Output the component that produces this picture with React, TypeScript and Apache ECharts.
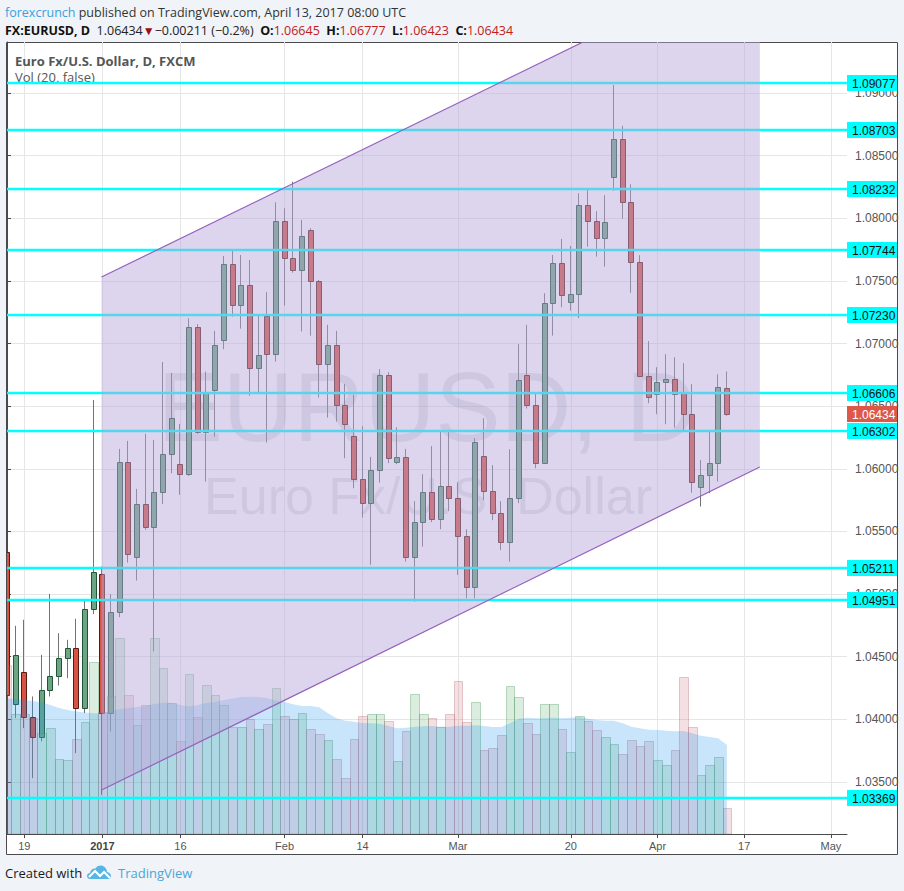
import React, { useEffect, useRef } from 'react';
import * as echarts from 'echarts';

// ---------- data ----------
const dates = [
  '2016-12-15', '2016-12-16', '2016-12-19', '2016-12-20', '2016-12-21', '2016-12-22', '2016-12-23', '2016-12-27', '2016-12-28', '2016-12-29', '2016-12-30',
  '2017-01-03', '2017-01-04', '2017-01-05', '2017-01-06', '2017-01-09', '2017-01-10', '2017-01-11', '2017-01-12', '2017-01-13',
  '2017-01-16', '2017-01-17', '2017-01-18', '2017-01-19', '2017-01-20', '2017-01-23', '2017-01-24', '2017-01-25', '2017-01-26', '2017-01-27', '2017-01-30', '2017-01-31',
  '2017-02-01', '2017-02-02', '2017-02-03', '2017-02-06', '2017-02-07', '2017-02-08', '2017-02-09', '2017-02-10', '2017-02-13',
  '2017-02-14', '2017-02-15', '2017-02-16', '2017-02-17', '2017-02-20', '2017-02-21', '2017-02-22', '2017-02-23', '2017-02-24', '2017-02-27', '2017-02-28',
  '2017-03-01', '2017-03-02', '2017-03-03', '2017-03-06', '2017-03-07', '2017-03-08', '2017-03-09', '2017-03-10', '2017-03-13', '2017-03-14', '2017-03-15', '2017-03-16', '2017-03-17',
  '2017-03-20', '2017-03-21', '2017-03-22', '2017-03-23', '2017-03-24', '2017-03-27', '2017-03-28', '2017-03-29', '2017-03-30', '2017-03-31',
  '2017-04-03', '2017-04-04', '2017-04-05', '2017-04-06', '2017-04-07', '2017-04-10', '2017-04-11', '2017-04-12', '2017-04-13',
];

const opens = [
  1.05337, 1.04124, 1.04382, 1.04018, 1.03858, 1.04233, 1.04345, 1.04489, 1.04569, 1.0409, 1.0488,
  1.05159, 1.0405, 1.04861, 1.06053, 1.05295, 1.05718, 1.05534, 1.05814, 1.06117,
  1.06037, 1.05957, 1.0713, 1.06292, 1.0663, 1.07027, 1.07633, 1.07306, 1.07465, 1.06803, 1.07218, 1.06915,
  1.07976, 1.07681, 1.07585, 1.07904, 1.07497, 1.06835, 1.06987, 1.06508, 1.0626,
  1.05917, 1.05726, 1.05989, 1.06747, 1.06053, 1.06093, 1.05295, 1.05574, 1.05814, 1.05598, 1.05861,
  1.05766, 1.05462, 1.05055, 1.06101, 1.05822, 1.05646, 1.05415, 1.05766, 1.06747, 1.06508, 1.06045, 1.07322, 1.07641,
  1.0733, 1.07394, 1.08104, 1.07976, 1.07841, 1.08332, 1.08631, 1.08133, 1.07649, 1.06739,
  1.06596, 1.06692, 1.06716, 1.06612, 1.06437, 1.05854, 1.05949, 1.06045, 1.06645,
];

const highs = [
  1.05401, 1.04747, 1.04795, 1.04183, 1.04515, 1.05002, 1.04688, 1.04635, 1.04803, 1.04949, 1.0655,
  1.0522, 1.05, 1.06159, 1.06223, 1.0584, 1.06279, 1.06231, 1.06853, 1.06766,
  1.06359, 1.07202, 1.07154, 1.06776, 1.07101, 1.07699, 1.07747, 1.07707, 1.07667, 1.07228, 1.0741, 1.08128,
  1.0808, 1.08292, 1.07987, 1.0792, 1.07508, 1.07149, 1.07101, 1.06678, 1.0659,
  1.0634, 1.06095, 1.06795, 1.06771, 1.06332, 1.06159, 1.05742, 1.05957, 1.06181, 1.063, 1.063,
  1.05893, 1.05518, 1.06245, 1.06404, 1.06029, 1.05742, 1.06157, 1.06995, 1.07149, 1.06604, 1.07402, 1.07707, 1.07835,
  1.07779, 1.082, 1.08232, 1.08056, 1.08184, 1.09064, 1.08737, 1.08271, 1.07705, 1.07019,
  1.06811, 1.06915, 1.06891, 1.06843, 1.06676, 1.06071, 1.06305, 1.06755, 1.06777,
];

const lows = [
  1.03664, 1.0401, 1.0393, 1.03531, 1.03824, 1.04183, 1.0427, 1.04329, 1.03731, 1.0405, 1.0484,
  1.03398, 1.03903, 1.04816, 1.05252, 1.05108, 1.05513, 1.04542, 1.0572, 1.05965,
  1.05792, 1.05944, 1.06279, 1.05898, 1.06257, 1.06955, 1.07215, 1.07119, 1.06584, 1.06596, 1.06209, 1.06856,
  1.07303, 1.07566, 1.07096, 1.07063, 1.06569, 1.06409, 1.06377, 1.06085, 1.05845,
  1.05611, 1.05234, 1.0589, 1.06045, 1.06037, 1.0526, 1.0494, 1.05379, 1.05574, 1.05518, 1.05662,
  1.05154, 1.04968, 1.04968, 1.0575, 1.0559, 1.05351, 1.0526, 1.05726, 1.06481, 1.06005, 1.0604, 1.07063, 1.0729,
  1.07263, 1.07202, 1.07773, 1.07694, 1.07614, 1.0822, 1.07997, 1.07406, 1.06731, 1.06524,
  1.06436, 1.06356, 1.06329, 1.06297, 1.0581, 1.05699, 1.05806, 1.05898, 1.06423,
];

const closes = [
  1.04196, 1.0451, 1.04018, 1.03858, 1.04233, 1.04345, 1.04489, 1.04569, 1.0409, 1.0488, 1.05175,
  1.0405, 1.04861, 1.06053, 1.05319, 1.05718, 1.05534, 1.05814, 1.0612, 1.06404,
  1.05957, 1.0713, 1.06292, 1.06608, 1.06987, 1.07633, 1.07306, 1.07465, 1.06803, 1.06907, 1.06915, 1.07976,
  1.07681, 1.07585, 1.07857, 1.075, 1.06835, 1.06987, 1.06508, 1.06356, 1.05917,
  1.05726, 1.05989, 1.06747, 1.06085, 1.06093, 1.05295, 1.05574, 1.05814, 1.05598, 1.05861, 1.05766,
  1.05462, 1.05055, 1.06213, 1.05822, 1.05646, 1.05415, 1.05766, 1.06707, 1.06508, 1.06045, 1.07322, 1.07641, 1.07386,
  1.07394, 1.08104, 1.07976, 1.07841, 1.07969, 1.08631, 1.08133, 1.07649, 1.06739, 1.06571,
  1.06692, 1.06716, 1.06596, 1.06437, 1.05893, 1.05949, 1.06045, 1.06652, 1.06434,
];

// volume (arbitrary units, read as bar heights) and its 20-period average
const volumes = [
  169, 120, 120, 116, 101, 106, 75, 74, 95, 112, 172,
  122, 138, 196, 139, 109, 129, 196, 166, 131,
  93, 160, 117, 149, 139, 129, 107, 107, 115, 105, 110, 146,
  118, 115, 121, 105, 100, 94, 75, 56, 95,
  118, 120, 120, 113, 73, 103, 140, 120, 116, 107, 120,
  153, 112, 132, 84, 86, 99, 148, 137, 111, 100, 130, 130, 105,
  82, 118, 113, 104, 97, 90, 80, 94, 88, 93,
  74, 69, 84, 157, 107, 59, 69, 77, 26,
];
const volumeMA = [
  135.5, 135, 134, 133, 131.5, 129, 126, 124, 122.5, 121.5, 120.7,
  120.7, 123, 125, 126, 127, 128, 130, 131.3, 131,
  129, 127.5, 129, 131, 132, 134, 135.5, 137, 137.3, 137, 136, 133.5,
  132, 129.7, 128, 128, 126.7, 120.7, 115.7, 113.3, 112.3,
  111, 110.7, 110.3, 108, 105.7, 106.3, 107.3, 107.7, 108, 107.3, 107.3,
  108.3, 108.3, 108.7, 108, 107, 107, 110.7, 115.3, 116.3, 115.7, 115.7, 116.3, 115.7,
  116.3, 117, 115.3, 114, 113.3, 113.3, 110.7, 107.3, 105.7, 104.3,
  104, 103.3, 102.7, 103, 100.7, 98.3, 97, 95.7, 89,
];

const levels = [1.09077, 1.08703, 1.08232, 1.07744, 1.0723, 1.06606, 1.06302, 1.05211, 1.04951, 1.03369];
const lastPrice = 1.06434;

const priceTicks = [1.035, 1.04, 1.045, 1.05, 1.055, 1.06, 1.065, 1.07, 1.075, 1.08, 1.085, 1.09];
const dateTickIndex = [2, 11, 20, 32, 41, 52, 65, 75, 85, 95];
const dateTickLabels = ['19', '2017', '16', 'Feb', '14', 'Mar', '20', 'Apr', '17', 'May'];

// parallel channel: bar index of its two ends, upper and lower price at each end
const channelX = [10.9, 86.8];
const channelUpper = [1.07531, 1.10096];
const channelLower = [1.03436, 1.06014];

// axis ranges
const PRICE_MIN = 1.03085;
const PRICE_MAX = 1.09407;
const X_MIN = 0;
const X_MAX = 96.85;
const VOLUME_AXIS_MAX = 792;

// ---------- styling ----------
const AXIS_FONT = '"Liberation Sans", Arial, sans-serif';
const UI_FONT = '"Open Sans", "Noto Sans", sans-serif';
const LABEL_BOX_W = 50;
const LABEL_BOX_H = 16;

const logoPath =
  'M3 14 C1.2 14 0 12.6 0 11 C0 9.3 1.3 8 3 8 C3.4 5 5.8 3.3 8.4 3.6 C9.8 1.2 12.6 0 15.3 0.8 C18.3 1.7 20 4.3 20 7 C22.4 7.4 24 9.2 24 11 C24 12.7 22.7 14 21 14 Z';
echarts.graphic.registerShape('tvlogo', echarts.graphic.extendPath(logoPath, {}) as any);

function priceTag(params: any, api: any, bg: string, fg: string, withLine: boolean, lineColor: string) {
  const cs = params.coordSys;
  const p = api.coord([api.value(0), api.value(1)]);
  const y = Math.round(p[1]);
  const right = cs.x + cs.width;
  const children: any[] = [];
  if (withLine) {
    children.push({
      type: 'line',
      shape: { x1: cs.x, y1: y, x2: right, y2: y },
      style: { stroke: lineColor, lineWidth: 2.5 },
    });
  }
  children.push({
    type: 'rect',
    shape: { x: right, y: y - LABEL_BOX_H / 2, width: LABEL_BOX_W, height: LABEL_BOX_H },
    style: { fill: bg },
  });
  children.push({
    type: 'text',
    x: right + 5,
    y: y + 0.5,
    style: {
      text: Number(api.value(1)).toFixed(5),
      fill: fg,
      font: `12px ${AXIS_FONT}`,
      verticalAlign: 'middle',
      align: 'left',
    },
  });
  return { type: 'group', children };
}

function buildOption(): any {
  const candleData = dates.map((_, i) => [i, opens[i], closes[i], lows[i], highs[i]]);
  const volumeData = volumes.map((v, i) => [i, v, closes[i] >= opens[i] ? 1 : 0]);
  const maData = volumeMA.map((v, i) => [i, v]);
  const levelData = levels.map((v) => [X_MIN, v]);
  const channelData = [[channelX[0], channelUpper[0], channelLower[0], channelX[1], channelUpper[1], channelLower[1]]];

  return {
    animation: false,
    backgroundColor: '#f0f3f7',
    grid: { left: 7, right: 57, top: 42, bottom: 57 },
    xAxis: {
      type: 'value',
      min: X_MIN,
      max: X_MAX,
      axisLine: { show: true, onZero: false, lineStyle: { color: '#4a4a4a', width: 1 } },
      axisTick: { show: true, customValues: dateTickIndex, length: 4, lineStyle: { color: '#4a4a4a' } },
      axisLabel: {
        customValues: dateTickIndex,
        margin: 6,
        color: '#555',
        fontSize: 11,
        fontFamily: AXIS_FONT,
        formatter: (v: number) => {
          const k = dateTickIndex.indexOf(Math.round(v));
          const t = k >= 0 ? dateTickLabels[k] : '';
          return t === '2017' ? '{b|2017}' : t;
        },
        rich: { b: { fontWeight: 'bold', color: '#444', fontSize: 11, fontFamily: AXIS_FONT } },
      },
      splitLine: { show: true, lineStyle: { color: '#e6e6e6', width: 1 } },
    },
    yAxis: [
      {
        type: 'value',
        position: 'right',
        min: PRICE_MIN,
        max: PRICE_MAX,
        scale: true,
        axisLine: { show: true, lineStyle: { color: '#4a4a4a', width: 1 } },
        axisTick: { show: true, customValues: priceTicks, length: 4, lineStyle: { color: '#4a4a4a' } },
        axisLabel: {
          customValues: priceTicks,
          margin: 8,
          color: '#555',
          fontSize: 12,
          fontFamily: AXIS_FONT,
          formatter: (v: number) => v.toFixed(5),
        },
        splitLine: { show: true, lineStyle: { color: '#e6e6e6', width: 1 } },
      },
      { type: 'value', min: 0, max: VOLUME_AXIS_MAX, show: false, splitLine: { show: false } },
    ],
    graphic: [
      {
        type: 'rect',
        z: -10,
        shape: { x: 6.5, y: 42.5, width: 891, height: 812 },
        style: { fill: '#ffffff', stroke: '#4a4a4a', lineWidth: 1 },
        silent: true,
      },
      {
        type: 'text',
        z: 1,
        x: 427,
        y: 407,
        silent: true,
        style: {
          text: 'EURUSD, D',
          fill: 'rgba(100,100,125,0.17)',
          font: `98px ${AXIS_FONT}`,
          align: 'center',
          verticalAlign: 'middle',
        },
      },
      {
        type: 'text',
        z: 1,
        x: 428,
        y: 496,
        silent: true,
        style: {
          text: 'Euro Fx/U.S. Dollar',
          fill: 'rgba(100,100,125,0.17)',
          font: `52px ${AXIS_FONT}`,
          align: 'center',
          verticalAlign: 'middle',
        },
      },
      {
        type: 'text',
        z: 4,
        x: 15,
        y: 61,
        silent: true,
        style: { text: 'Euro Fx/U.S. Dollar, D, FXCM', fill: '#555', font: `bold 13px ${UI_FONT}`, verticalAlign: 'middle' },
      },
      {
        type: 'text',
        z: 4,
        x: 15,
        y: 77,
        silent: true,
        style: { text: 'Vol (20, false)', fill: '#555', font: `13px ${UI_FONT}`, verticalAlign: 'middle' },
      },
      {
        type: 'text',
        z: 100,
        x: 5,
        y: 12,
        silent: true,
        style: {
          text: '{blue|forexcrunch} published on TradingView.com, April 13, 2017 08:00 UTC',
          fill: '#333',
          font: `12.5px ${UI_FONT}`,
          verticalAlign: 'middle',
          rich: {
            blue: { fill: '#3a9fdd', fontSize: 12.5, fontFamily: UI_FONT },
          },
        },
      },
      {
        type: 'text',
        z: 100,
        x: 5,
        y: 30,
        silent: true,
        style: {
          text:
            '{b|FX:EURUSD, D}  1.06434{t|▼}−0.00211 (−0.2%)  {b|O:}{r|1.06645}  {b|H:}{r|1.06777}  {b|L:}{r|1.06423}  {b|C:}{r|1.06434}',
          fill: '#222',
          font: `12.5px ${UI_FONT}`,
          verticalAlign: 'middle',
          rich: {
            b: { fill: '#111', fontWeight: 'bold', fontSize: 12.5, fontFamily: UI_FONT },
            r: { fill: '#c0201c', fontSize: 12.5, fontFamily: UI_FONT },
            t: { fill: '#9b0f0f', fontSize: 12, fontFamily: UI_FONT },
          },
        },
      },
      {
        type: 'text',
        z: 100,
        x: 5,
        y: 873,
        silent: true,
        style: { text: 'Created with', fill: '#1a1a1a', font: `13px ${UI_FONT}`, verticalAlign: 'middle' },
      },
      {
        type: 'tvlogo',
        z: 100,
        x: 87,
        y: 865,
        silent: true,
        style: { fill: '#58b6e6' },
      },
      {
        type: 'polyline',
        z: 101,
        silent: true,
        shape: { points: [[89, 877], [95, 871], [100, 876], [104, 872], [110, 878]] },
        style: { stroke: '#ffffff', lineWidth: 2, fill: null },
      },
      {
        type: 'text',
        z: 100,
        x: 118,
        y: 873,
        silent: true,
        style: { text: 'TradingView', fill: '#45a8dd', font: `13px ${UI_FONT}`, verticalAlign: 'middle' },
      },
    ],
    series: [
      {
        name: 'EURUSD',
        type: 'custom',
        z: 2,
        clip: true,
        xAxisIndex: 0,
        yAxisIndex: 0,
        data: candleData,
        encode: { x: 0, y: [1, 2, 3, 4] },
        renderItem: (params: any, api: any) => {
          const i = api.value(0);
          const o = api.value(1);
          const c = api.value(2);
          const l = api.value(3);
          const h = api.value(4);
          const po = api.coord([i, o]);
          const pc = api.coord([i, c]);
          const ph = api.coord([i, h]);
          const pl = api.coord([i, l]);
          const cx = Math.round(po[0]);
          const up = c >= o;
          const top = Math.round(Math.min(po[1], pc[1])) + 0.5;
          const bot = Math.round(Math.max(po[1], pc[1])) + 0.5;
          return {
            type: 'group',
            children: [
              {
                type: 'line',
                shape: { x1: cx - 0.5, y1: ph[1], x2: cx - 0.5, y2: pl[1] },
                style: { stroke: '#737375', lineWidth: 1 },
              },
              {
                type: 'rect',
                shape: { x: cx - 2.5, y: top, width: 5, height: Math.max(bot - top, 1) },
                style: {
                  fill: up ? '#6ba583' : '#d75442',
                  stroke: up ? '#225437' : '#5b1a13',
                  lineWidth: 1,
                },
              },
            ],
          };
        },
      },
      {
        name: 'Volume',
        type: 'custom',
        z: 3,
        clip: true,
        xAxisIndex: 0,
        yAxisIndex: 1,
        data: volumeData,
        encode: { x: 0, y: 1 },
        renderItem: (params: any, api: any) => {
          const i = api.value(0);
          const v = api.value(1);
          const up = api.value(2) === 1;
          const pL = api.coord([i - 0.5, v]);
          const pR = api.coord([i + 0.5, 0]);
          const x0 = Math.round(pL[0]) + 0.5;
          const x1 = Math.round(pR[0]) + 0.5;
          const y0 = Math.round(pL[1]) + 0.5;
          return {
            type: 'rect',
            shape: { x: x0, y: y0, width: x1 - x0, height: pR[1] - y0 },
            style: {
              fill: up ? 'rgba(110,185,125,0.25)' : 'rgba(200,100,110,0.2)',
              stroke: up ? 'rgba(70,150,90,0.35)' : 'rgba(170,90,100,0.3)',
              lineWidth: 1,
            },
          };
        },
      },
      {
        name: 'Volume MA',
        type: 'line',
        z: 4,
        xAxisIndex: 0,
        yAxisIndex: 1,
        data: maData,
        showSymbol: false,
        symbol: 'none',
        lineStyle: { width: 0, color: 'rgba(33,150,243,0)' },
        areaStyle: { color: 'rgba(33,150,243,0.35)' },
        silent: true,
      },
      {
        name: 'Levels',
        type: 'custom',
        z: 5,
        clip: false,
        silent: true,
        xAxisIndex: 0,
        yAxisIndex: 0,
        data: levelData,
        encode: { x: 0, y: 1 },
        renderItem: (params: any, api: any) => priceTag(params, api, '#00ffff', '#111', true, '#00ffff'),
      },
      {
        name: 'Last price',
        type: 'custom',
        z: 7,
        clip: false,
        silent: true,
        xAxisIndex: 0,
        yAxisIndex: 0,
        data: [[X_MIN, lastPrice]],
        encode: { x: 0, y: 1 },
        renderItem: (params: any, api: any) => priceTag(params, api, '#dc5848', '#ffffff', false, ''),
      },
      {
        name: 'Channel',
        type: 'custom',
        z: 6,
        clip: true,
        silent: true,
        xAxisIndex: 0,
        yAxisIndex: 0,
        data: channelData,
        encode: { x: [0, 3], y: [1, 2, 4, 5] },
        renderItem: (params: any, api: any) => {
          const xa = api.value(0);
          const ua = api.value(1);
          const la = api.value(2);
          const xb = api.value(3);
          const ub = api.value(4);
          const lb = api.value(5);
          const pUA = api.coord([xa, ua]);
          const pLA = api.coord([xa, la]);
          const pUB = api.coord([xb, ub]);
          const pLB = api.coord([xb, lb]);
          return {
            type: 'group',
            children: [
              {
                type: 'polygon',
                shape: { points: [pUA, pUB, pLB, pLA] },
                style: { fill: 'rgba(182,168,217,0.48)', stroke: null },
              },
              {
                type: 'line',
                shape: { x1: pUA[0], y1: pUA[1], x2: pUB[0], y2: pUB[1] },
                style: { stroke: '#9561bd', lineWidth: 1.2 },
              },
              {
                type: 'line',
                shape: { x1: pLA[0], y1: pLA[1], x2: pLB[0], y2: pLB[1] },
                style: { stroke: '#9561bd', lineWidth: 1.2 },
              },
            ],
          };
        },
      },
    ],
  };
}

export default function App() {
  const ref = useRef<HTMLDivElement>(null);
  useEffect(() => {
    if (!ref.current) return;
    const chart = echarts.init(ref.current, null, { renderer: 'svg' });
    chart.setOption(buildOption());
    return () => {
      chart.dispose();
    };
  }, []);
  return (
    <div
      ref={ref}
      style={{ position: 'absolute', left: 0, top: 0, width: 904, height: 891 }}
    />
  );
}
